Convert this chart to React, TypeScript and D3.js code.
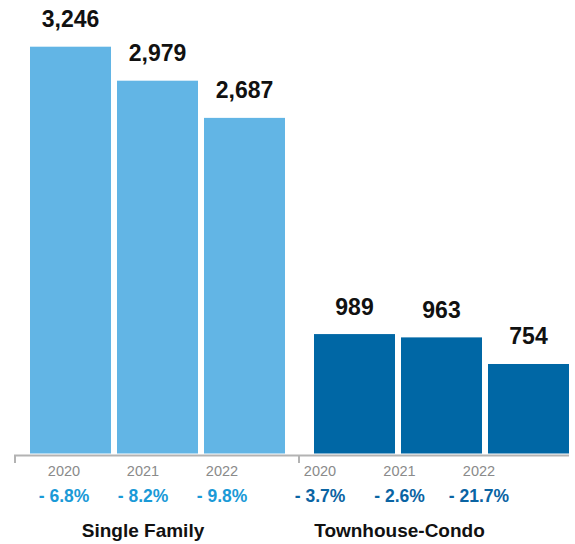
import React from "react";
import * as d3 from "d3";

const groups = ["Single Family", "Townhouse-Condo"];
const years = ["2020", "2021", "2022"];
const singleFamily = [3246, 2979, 2687];
const townhouseCondo = [989, 963, 754];
const singleFamilyChange = ["- 6.8%", "- 8.2%", "- 9.8%"];
const townhouseCondoChange = ["- 3.7%", "- 2.6%", "- 21.7%"];

const values = [singleFamily, townhouseCondo];
const changes = [singleFamilyChange, townhouseCondoChange];
const barColors = ["#62b5e5", "#0067a5"];
const changeColors = ["#1a9ad7", "#0a64a3"];

const width = 575;
const height = 544;
const baseline = 453.5;
const axisY = 455.5;
const font = "'Liberation Sans', Arial, Helvetica, sans-serif";

const App = () => {
  // outer scale places the two groups, inner scale the three years inside a group
  const xGroup = d3.scaleBand().domain(groups).range([15, 583]).padding(0);
  const xYear = d3.scaleBand().domain(years).range([15, 270]).paddingInner(0.069).paddingOuter(0);
  const yScale = d3.scaleLinear().domain([0, 3246]).range([460, 46.7]);

  // the label rows under the axis are laid out on their own, not under the bars
  const labelRanges: [number, number][] = [[64, 222], [320, 479]];

  return (
    <svg width={width} height={height} style={{ position: "absolute", left: 0, top: 0 }} fontFamily={font}>
      <rect width={width} height={height} fill="#ffffff" />
      {groups.map((g, gi) => {
        const gx = xGroup(g) as number;
        const xLabel = d3.scalePoint().domain(years).range(labelRanges[gi]);
        return (
          <g key={g}>
            {years.map((yr, i) => {
              const v = values[gi][i];
              const x = gx + (xYear(yr) as number);
              const y = yScale(v);
              return (
                <g key={yr}>
                  <rect x={x} y={y} width={xYear.bandwidth()} height={baseline - y} fill={barColors[gi]} />
                  <text
                    x={x + xYear.bandwidth() / 2}
                    y={y - 19.5}
                    textAnchor="middle"
                    fontSize={23}
                    fontWeight="bold"
                    fill="#111"
                  >
                    {d3.format(",")(v)}
                  </text>
                  <text x={xLabel(yr)} y={476} textAnchor="middle" fontSize={14.5} fill="#8a8a8a">
                    {yr}
                  </text>
                  <text
                    x={xLabel(yr)}
                    y={502}
                    textAnchor="middle"
                    fontSize={17.5}
                    fontWeight="bold"
                    fill={changeColors[gi]}
                  >
                    {changes[gi][i]}
                  </text>
                </g>
              );
            })}
            <text
              x={xLabel(years[1])}
              y={537}
              textAnchor="middle"
              fontSize={19}
              fontWeight="bold"
              fill="#111"
            >
              {g}
            </text>
            <line x1={gx} x2={gx} y1={axisY} y2={463} stroke="#b3b3b3" strokeWidth={2} />
          </g>
        );
      })}
      <line x1={xGroup.range()[0] - 1} x2={569} y1={axisY} y2={axisY} stroke="#b3b3b3" strokeWidth={2} />
    </svg>
  );
};

export default App;
